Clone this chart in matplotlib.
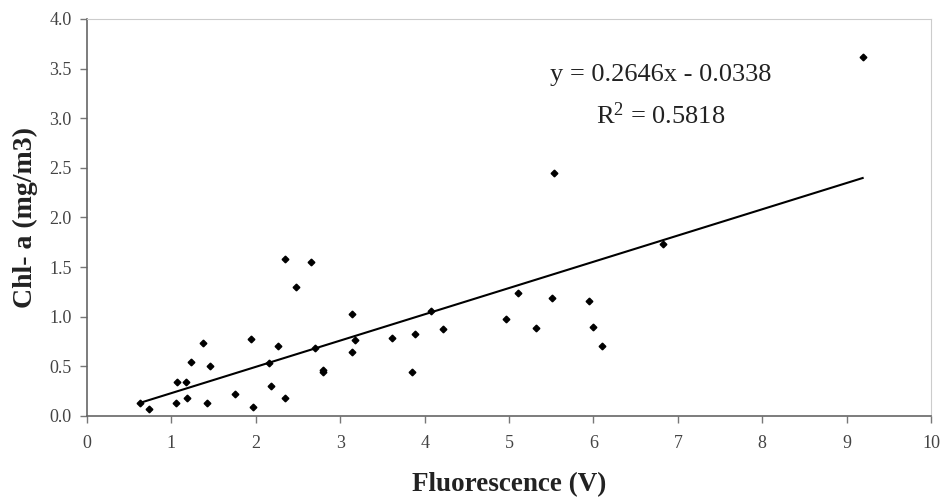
import matplotlib
matplotlib.use("Agg")
import matplotlib.pyplot as plt
import numpy as np

# data
fluor = [0.63, 0.73, 1.05, 1.06, 1.17, 1.19, 1.23, 1.37, 1.42, 1.46,
         1.75, 1.94, 1.97, 2.16, 2.18, 2.26, 2.34, 2.35, 2.47, 2.65,
         2.70, 2.79, 2.79, 3.14, 3.14, 3.17, 3.61, 3.85, 3.89, 4.08,
         4.22, 4.96, 5.11, 5.32, 5.51, 5.53, 5.95, 6.00, 6.10, 6.82, 9.19]
chl = [0.134, 0.067, 0.134, 0.345, 0.345, 0.178, 0.547, 0.732, 0.134, 0.50,
       0.218, 0.78, 0.094, 0.537, 0.30, 0.71, 1.58, 0.178, 1.30, 1.555,
       0.685, 0.46, 0.445, 1.03, 0.648, 0.766, 0.786, 0.443, 0.826, 1.058,
       0.877, 0.977, 1.24, 0.887, 1.186, 2.45, 1.16, 0.893, 0.705, 1.73, 3.62]
slope = 0.2646
intercept = -0.0338
r2 = 0.5818
x_ticks = list(range(0, 11))
y_ticks = [0.0, 0.5, 1.0, 1.5, 2.0, 2.5, 3.0, 3.5, 4.0]

plt.rcParams["font.family"] = ["Liberation Serif", "DejaVu Serif"]
plt.rcParams["mathtext.fontset"] = "custom"
plt.rcParams["mathtext.rm"] = "Liberation Serif"
plt.rcParams["mathtext.it"] = "Liberation Serif:italic"

fig = plt.figure(figsize=(9.43, 5.0), dpi=100)
ax = fig.add_axes([0.0923, 0.168, 0.895, 0.794])

ax.plot(fluor, chl, "D", color="black", markersize=3.4, zorder=3)

# trendline from the fitted coefficients shown on the chart
xs = np.array([min(fluor), max(fluor)])
ax.plot(xs, slope * xs + intercept, color="black", linewidth=1.5, zorder=2)

ax.set_xlim(0, 10)
ax.set_ylim(0, 4.0)
ax.set_xticks(x_ticks)
ax.set_yticks(y_ticks)
ax.set_yticklabels(["%.1f" % v for v in y_ticks])
ax.tick_params(axis="both", direction="out", length=5, width=1, color="#777777",
               labelsize=13, labelcolor="#444444", pad=6)
ax.tick_params(axis="x", pad=9)

for side in ["left", "bottom"]:
    ax.spines[side].set_color("#666666")
    ax.spines[side].set_linewidth(1.2)
for side in ["top", "right"]:
    ax.spines[side].set_color("#cccccc")
    ax.spines[side].set_linewidth(0.8)

ax.set_xlabel("Fluorescence (V)", fontsize=19.5, fontweight="bold", color="#222222", labelpad=14)
ax.set_ylabel("Chl- a (mg/m3)", fontsize=20, fontweight="bold", color="#222222", labelpad=8)

ax.text(6.8, 3.38, "y = %.4fx - %.4f" % (slope, abs(intercept)), fontsize=19,
        ha="center", va="baseline", color="#222222")
ax.text(6.8, 2.94, r"R$^{\mathrm{2}}$ = %.4f" % r2, fontsize=19,
        ha="center", va="baseline", color="#222222")

fig.savefig("out.png", dpi=100)
